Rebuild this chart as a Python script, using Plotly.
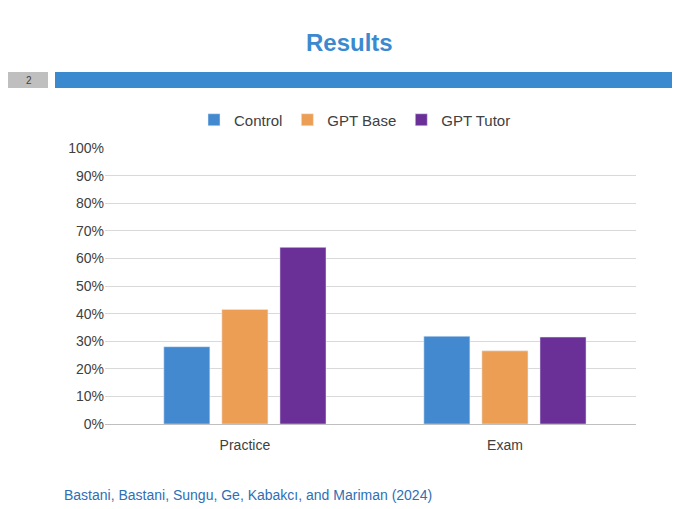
import plotly.graph_objects as go

categories = ["Practice", "Exam"]
control = [0.28, 0.318]
gpt_base = [0.415, 0.265]
gpt_tutor = [0.64, 0.315]

W, H, OFF = 680, 509, 8
L, R, T, B = 105 - OFF, 680 - 636 + OFF, 148 - OFF, 509 - 424 + OFF
PW, PH = W - L - R, H - T - B
def px(x): return (x - OFF - L) / PW
def py(y): return (H - B - (y - OFF)) / PH

fig = go.Figure()
for name, vals, col in [("Control", control, "#4389CF"), ("GPT Base", gpt_base, "#ED9E55"), ("GPT Tutor", gpt_tutor, "#6A3098")]:
    fig.add_bar(x=categories, y=vals, name=name, marker_color=col)

fig.update_layout(
    width=W, height=H, paper_bgcolor="white", plot_bgcolor="white",
    margin=dict(l=L, r=R, t=T, b=B, autoexpand=False),
    barmode="group", bargap=0.33, bargroupgap=0.207,
    font=dict(family="Liberation Sans, Arial", size=14, color="#404040"),
    legend=dict(orientation="h", x=px(355), xanchor="center", y=py(120), yanchor="middle", font=dict(size=15), itemwidth=30),
    yaxis=dict(range=[0, 1], dtick=0.1, tickformat=".0%", gridcolor="#D9D9D9", zeroline=False, ticks="", showline=False, automargin=False),
    xaxis=dict(range=[-0.538, 1.504], showline=True, linecolor="#BFBFBF", ticks="", automargin=False, tickfont=dict(size=14), ticklabelstandoff=8),
    shapes=[
        dict(type="rect", xref="paper", yref="paper", x0=px(0), x1=px(48), y0=py(88), y1=py(72), fillcolor="#BFBFBF", line_width=0),
        dict(type="rect", xref="paper", yref="paper", x0=px(55), x1=px(690), y0=py(88), y1=py(72), fillcolor="#3B8AD0", line_width=0),
    ],
    annotations=[
        dict(text="<b>Results</b>", xref="paper", yref="paper", x=px(349), y=py(42), yanchor="middle", showarrow=False, font=dict(size=24, color="#3B8AD0")),
        dict(text="2", xref="paper", yref="paper", x=px(24), y=py(80), yanchor="middle", showarrow=False, font=dict(size=10, color="#404040")),
        dict(text="Bastani, Bastani, Sungu, Ge, Kabakcı, and Mariman (2024)", xref="paper", yref="paper", x=px(62), xanchor="left", y=py(495), yanchor="middle", showarrow=False, font=dict(size=14, color="#2E6FB5")),
    ],
)
fig.write_html("out.html")
